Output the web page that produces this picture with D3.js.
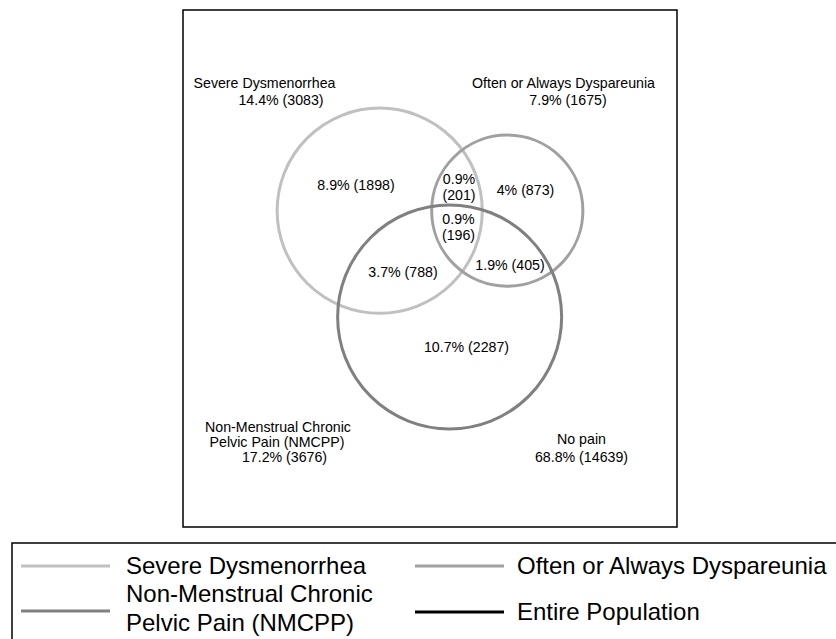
<!DOCTYPE html>
<html><head><meta charset="utf-8">
<script src="https://cdn.jsdelivr.net/npm/d3@7"></script>
<style>
body{margin:0;background:#fff}
svg{display:block;font-family:"Liberation Sans",Arial,sans-serif}
</style>
</head><body>
<svg id="chart" width="836" height="639"></svg>
<script>
// ---------------- DATA ----------------
const setNames    = ["Severe Dysmenorrhea", "Often or Always Dyspareunia", "Non-Menstrual Chronic Pelvic Pain (NMCPP)"];
const setPercents = [14.4, 7.9, 17.2];
const setCounts   = [3083, 1675, 3676];

// exclusive regions of the diagram (indices of the sets they belong to)
const regionSets     = [[0], [1], [2], [0,1], [0,2], [1,2], [0,1,2]];
const regionPercents = [8.9, 4, 10.7, 0.9, 3.7, 1.9, 0.9];
const regionCounts   = [1898, 873, 2287, 201, 788, 405, 196];

const noPainPercent = 68.8;
const noPainCount   = 14639;

const legendNames = ["Severe Dysmenorrhea", "Often or Always Dyspareunia",
                     "Non-Menstrual Chronic\nPelvic Pain (NMCPP)", "Entire Population"];

// ---------------- STYLE / LAYOUT ----------------
const setColors = ["#c0c0c0", "#a0a0a0", "#808080"];
const populationColor = "#000";
const box = {x: 183, y: 10, w: 494, h: 517};
const maxRadius = 112;
const fontSize = 14.2;

// label anchors (center x, baseline y of first line) for each region / set title
const regionLabelPos = [[356,190],[525.5,194.5],[466.5,351.5],[459,184.3],[403,276.5],[510,269.5],[458.5,224]];
const wrappedRegions = [3, 6];
const wrapLineGap = 16;
const setTitlePos = [
  [[264.5,88],[281,105]],
  [[563.5,88],[568,105]],
  [[278,431.5],[277,446.5],[284.5,461.5]]
];
const noPainPos = [[581.5,444],[581.5,461.5]];

const legendLayout = [
  {lx: 21,  tx: 126, y: 566},
  {lx: 415, tx: 517, y: 566},
  {lx: 21,  tx: 126, y: 611},
  {lx: 415, tx: 517, y: 612}
];
const legendFont = 24;
const legendLineHeight = 29;
const legendMultiShift = -3;

// ---------------- COMPUTE VENN LAYOUT ----------------
const svg = d3.select("#chart");
const rScale = d3.scaleSqrt().domain([0, d3.max(setCounts)]).range([0, maxRadius]);
const radii = setCounts.map(c => rScale(c));

function lensArea(r1, r2, d) {
  if (d >= r1 + r2) return 0;
  if (d <= Math.abs(r1 - r2)) return Math.PI * Math.min(r1, r2) ** 2;
  const a = Math.acos((d*d + r1*r1 - r2*r2) / (2*d*r1));
  const b = Math.acos((d*d + r2*r2 - r1*r1) / (2*d*r2));
  const k = Math.sqrt((-d+r1+r2)*(d+r1-r2)*(d-r1+r2)*(d+r1+r2));
  return r1*r1*a + r2*r2*b - 0.5*k;
}
function distanceFor(i, j) {
  const overlap = d3.sum(regionSets.map((s, k) => (s.includes(i) && s.includes(j)) ? regionCounts[k] : 0));
  const target = Math.PI * rScale(overlap) ** 2;
  let lo = Math.abs(radii[i] - radii[j]), hi = radii[i] + radii[j];
  for (let n = 0; n < 100; n++) {
    const mid = (lo + hi) / 2;
    if (lensArea(radii[i], radii[j], mid) > target) lo = mid; else hi = mid;
  }
  return (lo + hi) / 2;
}
const d01 = distanceFor(0,1), d02 = distanceFor(0,2), d12 = distanceFor(1,2);
const cx2 = (d02*d02 - d12*d12 + d01*d01) / (2*d01);
const cy2 = Math.sqrt(Math.max(0, d02*d02 - cx2*cx2));
let centers = [[0,0],[d01,0],[cx2,cy2]];
const minX = d3.min(centers, (c,i) => c[0] - radii[i]);
const maxX = d3.max(centers, (c,i) => c[0] + radii[i]);
const minY = d3.min(centers, (c,i) => c[1] - radii[i]);
const maxY = d3.max(centers, (c,i) => c[1] + radii[i]);
const offX = box.x + box.w/2 - (minX + maxX)/2;
const offY = box.y + box.h/2 - (minY + maxY)/2;
centers = centers.map(c => [c[0] + offX, c[1] + offY]);

// ---------------- DRAW ----------------
// Entire population
svg.append("rect")
  .attr("x", box.x).attr("y", box.y).attr("width", box.w).attr("height", box.h)
  .attr("fill", "none").attr("stroke", populationColor).attr("stroke-width", 1.5);

svg.append("g").selectAll("circle")
  .data(setCounts)
  .join("circle")
  .attr("cx", (d,i) => centers[i][0])
  .attr("cy", (d,i) => centers[i][1])
  .attr("r", d => rScale(d))
  .attr("fill", "none")
  .attr("stroke", (d,i) => setColors[i])
  .attr("stroke-width", 3);

const fmt = (p, c) => `${p}% (${c})`;
const textG = svg.append("g").attr("font-size", fontSize).attr("fill", "#000").attr("text-anchor", "middle");

// region labels
regionCounts.forEach((c, k) => {
  const lines = wrappedRegions.includes(k)
    ? [regionPercents[k] + "%", "(" + c + ")"]
    : [fmt(regionPercents[k], c)];
  const [x, y] = regionLabelPos[k];
  lines.forEach((t, li) => {
    textG.append("text").attr("x", x).attr("y", y + li * wrapLineGap).text(t);
  });
});

// set titles
const titleLines = [
  [setNames[0], fmt(setPercents[0], setCounts[0])],
  [setNames[1], fmt(setPercents[1], setCounts[1])],
  ["Non-Menstrual Chronic", "Pelvic Pain (NMCPP)", fmt(setPercents[2], setCounts[2])]
];
titleLines.forEach((lines, i) => {
  lines.forEach((t, li) => {
    textG.append("text").attr("x", setTitlePos[i][li][0]).attr("y", setTitlePos[i][li][1]).text(t);
  });
});
["No pain", fmt(noPainPercent, noPainCount)].forEach((t, li) => {
  textG.append("text").attr("x", noPainPos[li][0]).attr("y", noPainPos[li][1]).text(t);
});

// legend
svg.append("rect")
  .attr("x", 12).attr("y", 543).attr("width", 860).attr("height", 130)
  .attr("fill", "none").attr("stroke", "#000").attr("stroke-width", 1.5);

const legendColors = [...setColors, populationColor];
const lg = svg.append("g");
legendNames.forEach((name, i) => {
  const L = legendLayout[i];
  lg.append("line")
    .attr("x1", L.lx).attr("x2", L.lx + 89)
    .attr("y1", L.y).attr("y2", L.y)
    .attr("stroke", legendColors[i]).attr("stroke-width", 3);
  const lines = name.split("\n");
  const shift = lines.length > 1 ? legendMultiShift : 0;
  lines.forEach((t, li) => {
    lg.append("text")
      .attr("x", L.tx)
      .attr("y", L.y + shift + (li - (lines.length - 1) / 2) * legendLineHeight)
      .attr("dy", "0.35em")
      .attr("font-size", legendFont)
      .attr("fill", "#000")
      .text(t);
  });
});
</script>
</body></html>
